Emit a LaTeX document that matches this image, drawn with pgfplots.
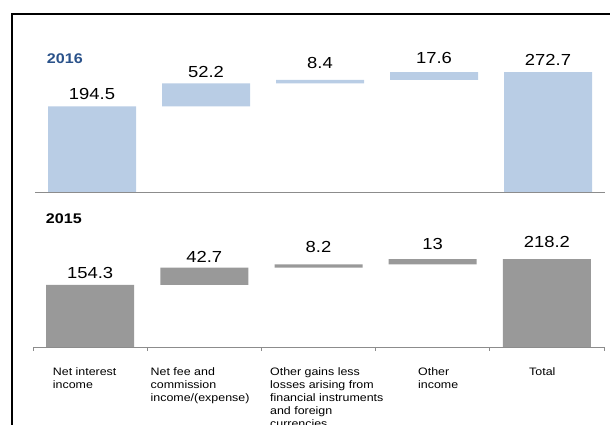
\documentclass[border=0pt]{standalone}
\usepackage{pgfplots}
\pgfplotsset{compat=1.18}
\usepackage{pgfplotstable}
\usepackage{fontspec}
\setmainfont{Liberation Sans}[FakeStretch=1.15]
\definecolor{barblue}{HTML}{B9CDE5}
\definecolor{bargray}{HTML}{999999}
\definecolor{yearblue}{HTML}{2A528A}
\definecolor{axisgray}{HTML}{8C8C8C}

% x, invisible base, visible step, label, label baseline position
\pgfplotstableread{
x base val lab ly
0 0     194.5 194.5 209.1
1 194.5 52.2  52.2  259.1
2 246.7 8.4   8.4   281.1
3 255.1 17.6  17.6  290.9
4 0     272.7 272.7 288.0
}\topdata

\pgfplotstableread{
x base val lab ly
0 0     154.3 154.3 169.5
1 154.3 42.7  42.7  209.2
2 197.0 8.2   8.2   234.0
3 205.2 13    13    240.7
4 0     218.2 218.2 246.4
}\botdata

\pgfplotsset{
  frame/.style={
    scale only axis,
    anchor=south west,
    ymin=0, xmin=-0.5, xmax=4.5,
    enlargelimits=false,
    clip=false,
  },
  wf/.style={
    frame,
    ybar stacked,
    bar width=88pt,
    axis x line=bottom,
    axis y line=none,
    axis line style={draw=axisgray, line width=0.7pt, -},
    minor xtick={-0.5,0.5,1.5,2.5,3.5,4.5},
    minor tick length=4pt,
    major tick length=0pt,
    tick align=outside,
    tick style={draw=axisgray, line width=0.7pt},
  },
  labplot/.style={
    draw=none, mark=none,
    nodes near coords,
    point meta=explicit symbolic,
    every node near coord/.append style={
      font=\fontsize{16}{19}\selectfont, text=black,
      anchor=base, inner sep=0pt},
  },
}

\begin{document}
\begin{tikzpicture}
\path[use as bounding box] (0,0) rectangle (610pt,425pt);
\draw[line width=2pt] (11.7pt,-20pt) -- (11.7pt,411pt) -- (640pt,411pt);

% 2016 panel
\begin{axis}[wf,
  at={(35pt,233pt)}, width=570pt, height=132pt, ymax=300,
  xtick=\empty]
\addplot[draw=none, fill=none] table[x=x, y=base] {\topdata};
\addplot[draw=none, fill=barblue] table[x=x, y=val] {\topdata};
\end{axis}
\begin{axis}[frame, hide axis,
  at={(35pt,233pt)}, width=570pt, height=132pt, ymax=300]
\addplot[labplot] table[x=x, y=ly, meta=lab] {\topdata};
\end{axis}

% 2015 panel
\begin{axis}[wf,
  at={(33pt,78pt)}, width=571pt, height=104.8pt, ymax=260,
  xtick={-0.3275,0.529,1.575,2.871,3.843},
  xticklabels={{Net interest\\income},{Net fee and\\commission\\income/(expense)},{Other gains less\\losses arising from\\financial instruments\\and foreign\\currencies},{Other\\income},{Total}},
  xticklabel style={anchor=north west, align=left, inner sep=0pt,
    font=\fontsize{10.8}{13}\selectfont, yshift=-20pt}]
\addplot[draw=none, fill=none] table[x=x, y=base] {\botdata};
\addplot[draw=none, fill=bargray] table[x=x, y=val] {\botdata};
\end{axis}
\begin{axis}[frame, hide axis,
  at={(33pt,78pt)}, width=571pt, height=104.8pt, ymax=260]
\addplot[labplot] table[x=x, y=ly, meta=lab] {\botdata};
\end{axis}

\node[anchor=base west, inner sep=0pt, font=\bfseries\fontsize{14}{16}\selectfont, text=yearblue] at (46.7pt,361pt) {2016};
\node[anchor=base west, inner sep=0pt, font=\bfseries\fontsize{14}{16}\selectfont, text=black] at (45.7pt,201.7pt) {2015};
\end{tikzpicture}
\end{document}
